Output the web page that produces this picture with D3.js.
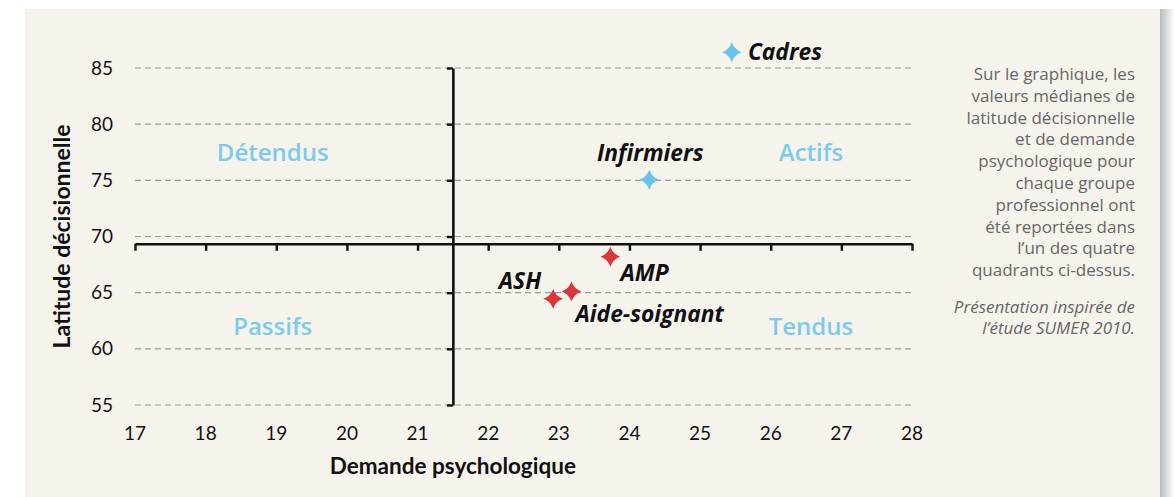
<!DOCTYPE html>
<html>
<head>
<meta charset="utf-8">
<script src="https://cdn.jsdelivr.net/npm/d3@7.9.0/dist/d3.min.js"></script>
<style>
  body { margin: 0; background: #fff; }
  svg { display: block; }
</style>
</head>
<body>
<svg id="chart" width="1174" height="497"></svg>
<script>
// data
const groups = ['Cadres', 'Infirmiers', 'AMP', 'Aide-soignant', 'ASH'];
const demande = [25.45, 24.28, 23.73, 23.18, 22.92];
const latitude = [86.4, 75.05, 68.2, 65.1, 64.45];
const kind = ['haut', 'haut', 'bas', 'bas', 'bas'];
const xTicks = [17, 18, 19, 20, 21, 22, 23, 24, 25, 26, 27, 28];
const yTicks = [55, 60, 65, 70, 75, 80, 85];
const crossX = 21.5;   // median demande
const crossY = 69.35;  // median latitude
const quadrants = ['Détendus', 'Actifs', 'Passifs', 'Tendus'];
const note = ['Sur le graphique, les', 'valeurs médianes de', 'latitude décisionnelle',
  'et de demande', 'psychologique pour', 'chaque groupe', 'professionnel ont',
  'été reportées dans', 'l\u2019un des quatre', 'quadrants ci-dessus.'];
const source = ['Présentation inspirée de', 'l\u2019étude SUMER 2010.'];

const svg = d3.select('#chart');
const font = 'Lato, "Open Sans", sans-serif';
const font2 = '"Open Sans", Lato, sans-serif';

// panel + shadow on the right
let grad = svg.append('defs').append('linearGradient').attr('id', 'shadow');
grad.append('stop').attr('offset', '0%').attr('stop-color', '#b9b9b9');
grad.append('stop').attr('offset', '100%').attr('stop-color', '#ffffff');
svg.append('rect').attr('x', 1160).attr('y', 9).attr('width', 14).attr('height', 488).attr('fill', 'url(#shadow)');
svg.append('rect').attr('x', 25).attr('y', 9).attr('width', 1135).attr('height', 488).attr('fill', '#f6f3ed');

let x = d3.scaleLinear().domain([17, 28]).range([135, 912]);
let y = d3.scaleLinear().domain([55, 85]).range([405, 68]);

// dashed gridlines
svg.append('g').selectAll('line').data(yTicks).join('line')
  .attr('x1', x(17)).attr('x2', x(28))
  .attr('y1', d => y(d)).attr('y2', d => y(d))
  .attr('stroke', '#9a9a9a').attr('stroke-width', 1.2)
  .attr('stroke-dasharray', '6,4');

// y tick labels
svg.append('g').selectAll('text').data(yTicks).join('text')
  .attr('x', 113).attr('y', d => y(d)).attr('dy', '0.35em')
  .attr('text-anchor', 'end').attr('font-family', font).attr('font-size', 19)
  .attr('fill', '#111').text(d => d);

// x tick labels
svg.append('g').selectAll('text').data(xTicks).join('text')
  .attr('x', d => x(d)).attr('y', 440)
  .attr('text-anchor', 'middle').attr('font-family', font).attr('font-size', 19)
  .attr('fill', '#111').text(d => d);

// horizontal axis (crossing at median latitude), ticks pointing down
let xAxis = d3.axisBottom(x).tickValues(xTicks).tickSize(7).tickSizeOuter(0).tickFormat('');
let gx = svg.append('g').attr('transform', `translate(0,${y(crossY)})`).call(xAxis);
gx.select('.domain').attr('stroke', '#111').attr('stroke-width', 2.6);
gx.selectAll('.tick line').attr('stroke', '#111').attr('stroke-width', 2.4);

// vertical axis (crossing at median demande), ticks pointing left
let yAxis = d3.axisLeft(y).tickValues(yTicks).tickSize(6).tickSizeOuter(0).tickFormat('');
let gy = svg.append('g').attr('transform', `translate(${x(crossX)},0)`).call(yAxis);
gy.select('.domain').attr('stroke', '#111').attr('stroke-width', 2.6);
gy.selectAll('.tick line').attr('stroke', '#111').attr('stroke-width', 2.4);

// axis titles
svg.append('text').attr('x', x(crossX)).attr('y', 474)
  .attr('text-anchor', 'middle').attr('font-family', font).attr('font-weight', 'bold')
  .attr('font-size', 22.5).attr('fill', '#111').text('Demande psychologique');
svg.append('text').attr('transform', `translate(70,${y(70)}) rotate(-90)`)
  .attr('text-anchor', 'middle').attr('font-family', font).attr('font-weight', 'bold')
  .attr('font-size', 23).attr('fill', '#111').text('Latitude décisionnelle');

// quadrant names
let qx = [18.95, 26.57, 18.95, 26.57];
let qy = [77.5, 77.5, 62, 62];
svg.append('g').selectAll('text').data(quadrants).join('text')
  .attr('x', (d, i) => x(qx[i])).attr('y', (d, i) => y(qy[i]))
  .attr('text-anchor', 'middle').attr('dy', '0.35em')
  .attr('font-family', font2).attr('font-weight', 600).attr('font-size', 24)
  .attr('fill', '#7dcbea').text(d => d);

// four-point star marker
const star4 = {
  draw(ctx, size) {
    let r = Math.sqrt(size) * 0.75, k = r * 0.26;
    ctx.moveTo(0, -r);
    ctx.quadraticCurveTo(k, -k, r, 0);
    ctx.quadraticCurveTo(k, k, 0, r);
    ctx.quadraticCurveTo(-k, k, -r, 0);
    ctx.quadraticCurveTo(-k, -k, 0, -r);
    ctx.closePath();
  }
};
let colors = { haut: '#6cc3e8', bas: '#d9373b' };
svg.append('g').selectAll('path').data(groups).join('path')
  .attr('transform', (d, i) => `translate(${x(demande[i])},${y(latitude[i])})`)
  .attr('d', d3.symbol().type(star4).size(175))
  .attr('fill', (d, i) => colors[kind[i]]);

// point labels
let lab = {
  'Cadres': { dx: 16, dy: 8, anchor: 'start' },
  'Infirmiers': { dx: 1, dy: -19, anchor: 'middle' },
  'AMP': { dx: 10, dy: 24, anchor: 'start' },
  'Aide-soignant': { dx: 4, dy: 30, anchor: 'start' },
  'ASH': { dx: -12, dy: -10, anchor: 'end' }
};
svg.append('g').selectAll('text').data(groups).join('text')
  .attr('x', (d, i) => x(demande[i]) + lab[d].dx)
  .attr('y', (d, i) => y(latitude[i]) + lab[d].dy)
  .attr('text-anchor', d => lab[d].anchor)
  .attr('font-family', font2).attr('font-weight', 'bold').attr('font-style', 'italic')
  .attr('font-size', 22.8).attr('fill', '#111').text(d => d);

// side note
svg.append('g').selectAll('text').data(note).join('text')
  .attr('x', 1135).attr('y', (d, i) => 80 + i * 21.8)
  .attr('text-anchor', 'end').attr('font-family', font2).attr('font-size', 17)
  .attr('fill', '#666').text(d => d);
svg.append('g').selectAll('text').data(source).join('text')
  .attr('x', 1135).attr('y', (d, i) => 313 + i * 21)
  .attr('text-anchor', 'end').attr('font-family', font2).attr('font-size', 17)
  .attr('font-style', 'italic').attr('fill', '#666').text(d => d);
</script>
</body>
</html>
